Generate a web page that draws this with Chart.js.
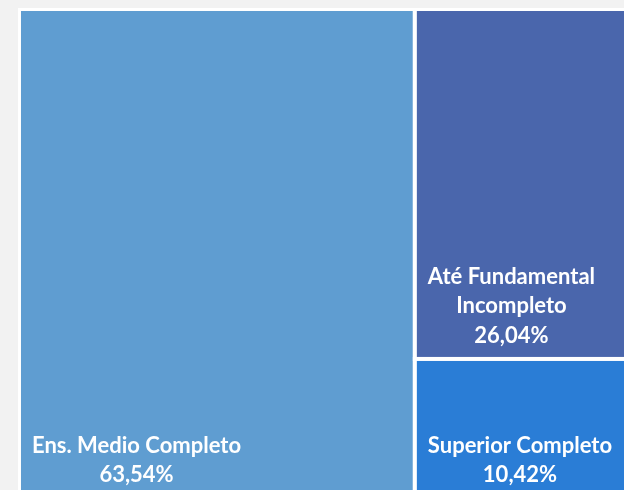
<!DOCTYPE html>
<html lang="pt">
<head>
    <meta charset="UTF-8">
    <title>Escolaridade</title>
    <style>
        html, body { margin: 0; padding: 0; background: #f2f2f2; overflow: hidden; }
        #wrap { position: absolute; left: 18px; top: 8px; width: 624px; height: 491px; background: #ffffff; }
    </style>
</head>
<body>
    <div id="wrap">
        <canvas id="treemap"></canvas>
    </div>

    <script src="https://cdn.jsdelivr.net/npm/chart.js"></script>
    <script>
    // escolaridade, share of total (%)
    const categories = ['Ens. Medio Completo', 'Até Fundamental Incompleto', 'Superior Completo'];
    const shares = [63.54, 26.04, 10.42];
    // how each category name is broken over lines inside its tile
    const labelLines = [['Ens. Medio Completo'], ['Até Fundamental', 'Incompleto'], ['Superior Completo']];
    const tileColors = ['#5f9dd1', '#4a66ac', '#2a7dd6'];

    function fmtPct(v) {
        return v.toFixed(2).replace('.', ',') + '%';
    }

    // slice layout: biggest tile takes a full-height column, the rest stack on the right
    function layoutTiles() {
        const total = shares.reduce((a, b) => a + b, 0);
        const split = shares[0] / total * 100;
        const tiles = [{ i: 0, x0: 0, x1: split, y0: 0, y1: 100 }];
        const rest = total - shares[0];
        let y = 0;
        for (let i = 1; i < shares.length; i++) {
            const h = shares[i] / rest * 100;
            tiles.push({ i: i, x0: split, x1: 100, y0: y, y1: y + h });
            y += h;
        }
        return tiles;
    }

    const treemapPlugin = {
        id: 'treemapTiles',
        beforeDatasetsDraw(chart) {
            const { ctx, scales: { x, y } } = chart;
            const tiles = layoutTiles();
            ctx.save();
            tiles.forEach(t => {
                const left = x.getPixelForValue(t.x0);
                const right = x.getPixelForValue(t.x1);
                const top = y.getPixelForValue(t.y0);
                const bottom = y.getPixelForValue(t.y1);
                ctx.fillStyle = tileColors[t.i];
                ctx.fillRect(left, top, right - left, bottom - top);
                ctx.lineWidth = 4;
                ctx.strokeStyle = '#ffffff';
                ctx.strokeRect(left, top, right - left, bottom - top);

                // label block sits in the lower left corner, lines centred on each other
                const lines = labelLines[t.i].concat([fmtPct(shares[t.i])]);
                ctx.font = 'bold 22px Lato';
                ctx.fillStyle = '#ffffff';
                ctx.textAlign = 'center';
                ctx.textBaseline = 'alphabetic';
                const blockW = Math.max(...lines.map(s => ctx.measureText(s).width));
                const cx = left + 13 + blockW / 2;
                const lineH = 29.5;
                const lastBase = bottom - (t.i === 1 ? 16 : 17);
                lines.forEach((s, k) => {
                    ctx.fillText(s, cx, lastBase - (lines.length - 1 - k) * lineH);
                });
            });
            ctx.restore();
        }
    };

    new Chart(document.getElementById('treemap'), {
        type: 'scatter',
        data: {
            labels: categories,
            datasets: [{ label: 'Escolaridade', data: [], pointRadius: 0 }]
        },
        options: {
            responsive: true,
            maintainAspectRatio: false,
            animation: false,
            layout: { padding: { left: 1, top: 1, right: 0, bottom: 0 } },
            plugins: { legend: { display: false }, tooltip: { enabled: false } },
            scales: {
                x: { display: false, min: 0, max: 100 },
                y: { display: false, min: 0, max: 100, reverse: true }
            }
        },
        plugins: [treemapPlugin]
    });
    </script>
</body>
</html>
